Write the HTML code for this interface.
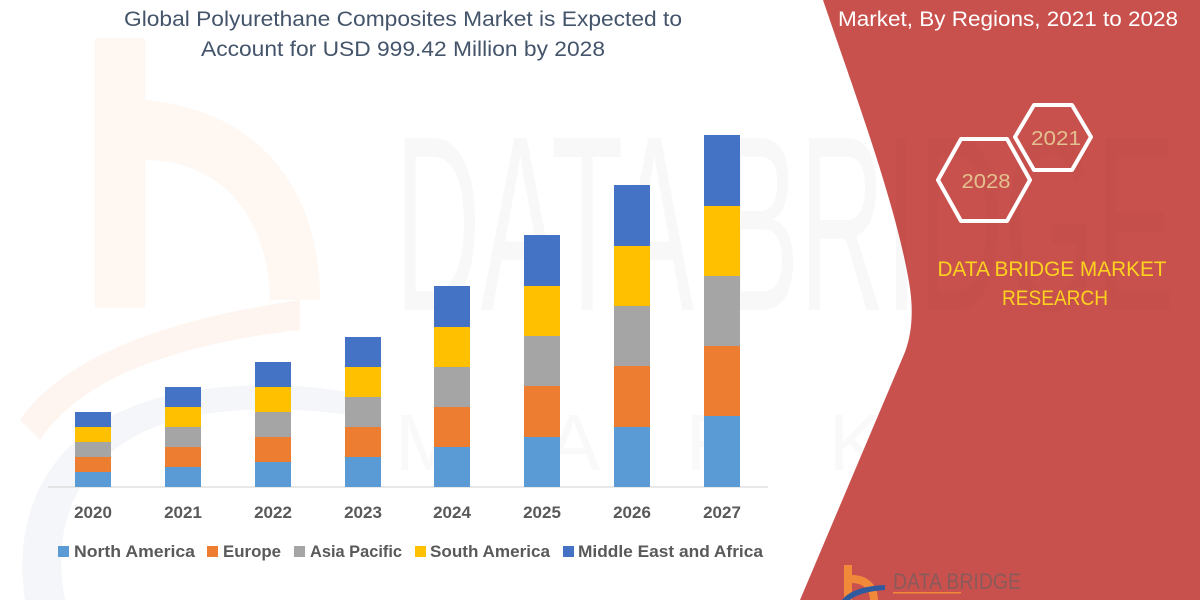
<!DOCTYPE html>
<html>
<head>
<meta charset="utf-8">
<style>
  html,body{margin:0;padding:0;background:#fff;}
  body{width:1200px;height:600px;overflow:hidden;}
  svg{display:block;}
  text{font-family:"Liberation Sans",Arial,sans-serif;}
</style>
</head>
<body>
<svg width="1200" height="600" viewBox="0 0 1200 600" xmlns="http://www.w3.org/2000/svg">
  <defs>
    <clipPath id="redclip">
      <path d="M823 0 C 850 80, 895 200, 909 282 Q 916 322, 905 352 L 800 600 L 1200 600 L 1200 0 Z"/>
    </clipPath>
  </defs>
  <rect x="0" y="0" width="1200" height="600" fill="#ffffff"/>

  <!-- faint watermark: left logo -->
  <g>
    <rect x="95" y="38" width="50" height="270" fill="#fef7f2"/>
    <path d="M145 100 C 260 110, 320 190, 320 300 L 270 300 C 268 215, 220 160, 145 160 Z" fill="#fef7f2"/>
    <path d="M20 420 C 60 360, 160 320, 300 300 L 300 330 C 170 345, 80 380, 40 440 Z" fill="#fef5f0"/>
    <path d="M25 600 C 10 500, 60 420, 170 395 C 250 378, 330 385, 380 400 L 380 420 C 300 405, 220 405, 160 425 C 80 455, 50 520, 65 600 Z" fill="#f4f6f9"/>
  </g>
  <!-- faint watermark text -->
  <text x="395" y="310" font-size="250" fill="#f8f8f8" textLength="780" lengthAdjust="spacingAndGlyphs">DATA BRIDGE</text>
  <text x="395" y="470" font-size="80" fill="#f9f9f9" textLength="760" lengthAdjust="spacing">MARKET</text>

  <!-- title -->
  <text x="403" y="26" font-size="21" fill="#44546A" text-anchor="middle" textLength="558" lengthAdjust="spacingAndGlyphs">Global Polyurethane Composites Market is Expected to</text>
  <text x="403" y="56" font-size="21" fill="#44546A" text-anchor="middle" textLength="404" lengthAdjust="spacingAndGlyphs">Account for USD 999.42 Million by 2028</text>

  <!-- axis -->
  <line x1="48" y1="487" x2="768" y2="487" stroke="#d9d9d9" stroke-width="1.2"/>

  <!-- bars: 2020 -->
  <g>
    <rect x="75" y="472" width="36" height="15" fill="#5B9BD5"/>
    <rect x="75" y="457" width="36" height="15" fill="#ED7D31"/>
    <rect x="75" y="442" width="36" height="15" fill="#A5A5A5"/>
    <rect x="75" y="427" width="36" height="15" fill="#FFC000"/>
    <rect x="75" y="412" width="36" height="15" fill="#4472C4"/>
  </g>
  <!-- 2021 -->
  <g>
    <rect x="165" y="467" width="36" height="20" fill="#5B9BD5"/>
    <rect x="165" y="447" width="36" height="20" fill="#ED7D31"/>
    <rect x="165" y="427" width="36" height="20" fill="#A5A5A5"/>
    <rect x="165" y="407" width="36" height="20" fill="#FFC000"/>
    <rect x="165" y="387" width="36" height="20" fill="#4472C4"/>
  </g>
  <!-- 2022 -->
  <g>
    <rect x="255" y="462" width="36" height="25" fill="#5B9BD5"/>
    <rect x="255" y="437" width="36" height="25" fill="#ED7D31"/>
    <rect x="255" y="412" width="36" height="25" fill="#A5A5A5"/>
    <rect x="255" y="387" width="36" height="25" fill="#FFC000"/>
    <rect x="255" y="362" width="36" height="25" fill="#4472C4"/>
  </g>
  <!-- 2023 -->
  <g>
    <rect x="345" y="457" width="36" height="30" fill="#5B9BD5"/>
    <rect x="345" y="427" width="36" height="30" fill="#ED7D31"/>
    <rect x="345" y="397" width="36" height="30" fill="#A5A5A5"/>
    <rect x="345" y="367" width="36" height="30" fill="#FFC000"/>
    <rect x="345" y="337" width="36" height="30" fill="#4472C4"/>
  </g>
  <!-- 2024 -->
  <g>
    <rect x="434" y="447" width="36" height="40" fill="#5B9BD5"/>
    <rect x="434" y="407" width="36" height="40" fill="#ED7D31"/>
    <rect x="434" y="367" width="36" height="40" fill="#A5A5A5"/>
    <rect x="434" y="327" width="36" height="40" fill="#FFC000"/>
    <rect x="434" y="286" width="36" height="41" fill="#4472C4"/>
  </g>
  <!-- 2025 -->
  <g>
    <rect x="524" y="437" width="36" height="50" fill="#5B9BD5"/>
    <rect x="524" y="386" width="36" height="51" fill="#ED7D31"/>
    <rect x="524" y="336" width="36" height="50" fill="#A5A5A5"/>
    <rect x="524" y="286" width="36" height="50" fill="#FFC000"/>
    <rect x="524" y="235" width="36" height="51" fill="#4472C4"/>
  </g>
  <!-- 2026 -->
  <g>
    <rect x="614" y="427" width="36" height="60" fill="#5B9BD5"/>
    <rect x="614" y="366" width="36" height="61" fill="#ED7D31"/>
    <rect x="614" y="306" width="36" height="60" fill="#A5A5A5"/>
    <rect x="614" y="246" width="36" height="60" fill="#FFC000"/>
    <rect x="614" y="185" width="36" height="61" fill="#4472C4"/>
  </g>
  <!-- 2027 -->
  <g>
    <rect x="704" y="416" width="36" height="71" fill="#5B9BD5"/>
    <rect x="704" y="346" width="36" height="70" fill="#ED7D31"/>
    <rect x="704" y="276" width="36" height="70" fill="#A5A5A5"/>
    <rect x="704" y="206" width="36" height="70" fill="#FFC000"/>
    <rect x="704" y="135" width="36" height="71" fill="#4472C4"/>
  </g>

  <!-- year labels -->
  <g font-size="17" font-weight="bold" fill="#595959" text-anchor="middle">
    <text x="93" y="518">2020</text>
    <text x="183" y="518">2021</text>
    <text x="273" y="518">2022</text>
    <text x="363" y="518">2023</text>
    <text x="452" y="518">2024</text>
    <text x="542" y="518">2025</text>
    <text x="632" y="518">2026</text>
    <text x="722" y="518">2027</text>
  </g>

  <!-- legend -->
  <g font-size="17" font-weight="bold" fill="#595959">
    <rect x="58" y="546" width="11" height="11" fill="#5B9BD5"/>
    <text x="74" y="557" textLength="121" lengthAdjust="spacingAndGlyphs">North America</text>
    <rect x="207" y="546" width="11" height="11" fill="#ED7D31"/>
    <text x="223" y="557" textLength="58" lengthAdjust="spacingAndGlyphs">Europe</text>
    <rect x="294" y="546" width="11" height="11" fill="#A5A5A5"/>
    <text x="310" y="557" textLength="92" lengthAdjust="spacingAndGlyphs">Asia Pacific</text>
    <rect x="415" y="546" width="11" height="11" fill="#FFC000"/>
    <text x="430" y="557" textLength="120" lengthAdjust="spacingAndGlyphs">South America</text>
    <rect x="563" y="546" width="11" height="11" fill="#4472C4"/>
    <text x="578" y="557" textLength="185" lengthAdjust="spacingAndGlyphs">Middle East and Africa</text>
  </g>

  <!-- red panel -->
  <path d="M823 0 C 850 80, 895 200, 909 282 Q 916 322, 905 352 L 800 600 L 1200 600 L 1200 0 Z" fill="#C9514D"/>

  <!-- faint watermark inside red -->
  <text x="395" y="310" font-size="250" fill="#000" fill-opacity="0.018" textLength="780" lengthAdjust="spacingAndGlyphs" clip-path="url(#redclip)">DATA BRIDGE</text>

  <!-- right header -->
  <text x="1008" y="26" font-size="21" fill="#ffffff" text-anchor="middle" textLength="340" lengthAdjust="spacingAndGlyphs">Market, By Regions, 2021 to 2028</text>

  <!-- hexagons -->
  <polygon points="938,180 961,139 1007,139 1030,180 1007,221 961,221" fill="none" stroke="#ffffff" stroke-width="4" stroke-linejoin="round"/>
  <polygon points="1015,137 1034,105 1072,105 1091,137 1072,170 1034,170" fill="none" stroke="#ffffff" stroke-width="4" stroke-linejoin="round"/>
  <text x="986" y="188" font-size="20" fill="#E3C08F" text-anchor="middle" textLength="49" lengthAdjust="spacingAndGlyphs">2028</text>
  <text x="1056" y="145" font-size="20" fill="#E3C08F" text-anchor="middle" textLength="50" lengthAdjust="spacingAndGlyphs">2021</text>

  <!-- DBMR text -->
  <text x="1052" y="276" font-size="21" fill="#FFD21F" text-anchor="middle" textLength="229" lengthAdjust="spacingAndGlyphs">DATA BRIDGE MARKET</text>
  <text x="1055" y="305" font-size="21" fill="#FFD21F" text-anchor="middle" textLength="106" lengthAdjust="spacingAndGlyphs">RESEARCH</text>

  <!-- bottom logo -->
  <g>
    <rect x="844" y="565" width="8" height="35" fill="#F08A3A"/>
    <path d="M852 575 C 868 575, 878 585, 878 600 L 870 600 C 870 590, 863 583, 852 583 Z" fill="#F08A3A"/>
    <path d="M842 600 C 850 590, 865 586, 885 585 L 885 590 C 868 591, 856 595, 850 600 Z" fill="#2F5A9E"/>
    <text x="893" y="589" font-size="22" fill="#8a5a5a" textLength="128" lengthAdjust="spacingAndGlyphs" font-family="Liberation Serif, serif">DATA BRIDGE</text>
    <rect x="893" y="592" width="68" height="1.5" fill="#F08A3A"/>
  </g>
</svg>
</body>
</html>
